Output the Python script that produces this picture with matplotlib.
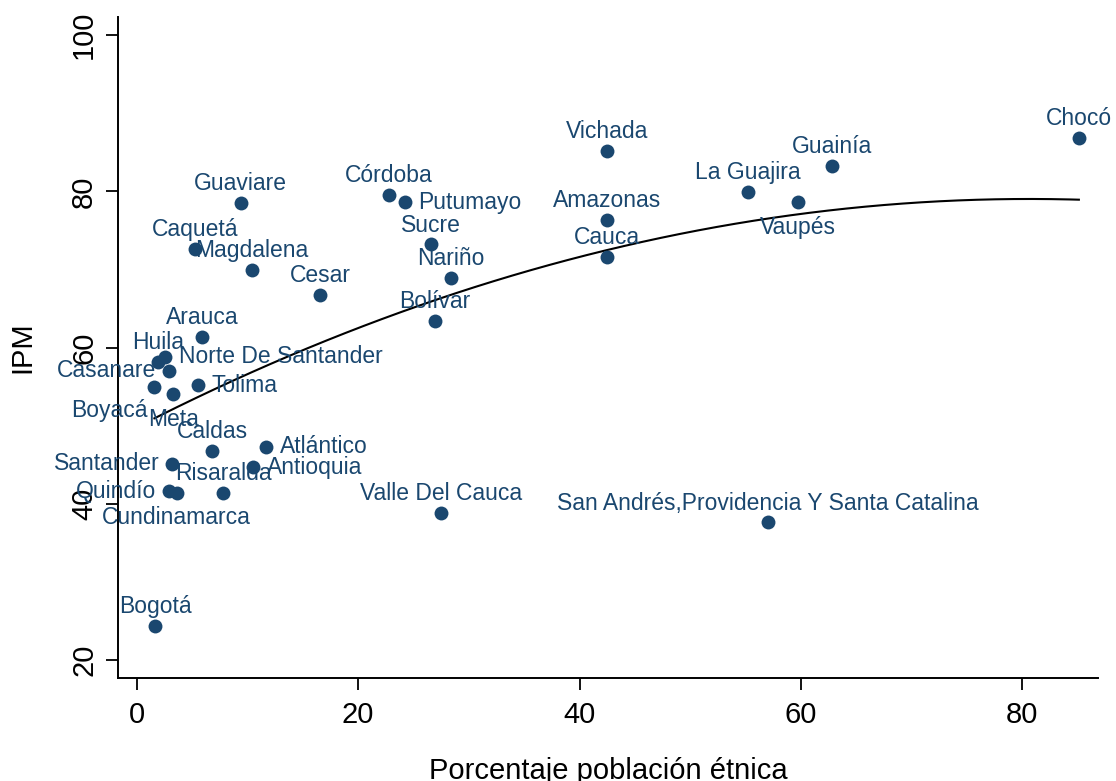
import matplotlib
matplotlib.use('Agg')
import numpy as np
import matplotlib.pyplot as plt

plt.rcParams['font.family'] = ['Liberation Sans', 'DejaVu Sans']

departamentos = ['Chocó', 'Guainía', 'Vichada', 'La Guajira', 'Vaupés', 'Amazonas', 'Cauca',
                 'Córdoba', 'Putumayo', 'Sucre', 'Nariño', 'Bolívar', 'Guaviare', 'Caquetá',
                 'Magdalena', 'Cesar', 'Arauca', 'Huila', 'Norte De Santander', 'Casanare',
                 'Boyacá', 'Meta', 'Tolima', 'Caldas', 'Atlántico', 'Antioquia', 'Santander',
                 'Risaralda', 'Quindío', 'Cundinamarca', 'Bogotá', 'Valle Del Cauca',
                 'San Andrés,Providencia Y Santa Catalina']
pob_etnica = [85.1, 62.8, 42.5, 55.2, 59.7, 42.5, 42.5,
              22.8, 24.2, 26.6, 28.4, 26.9, 9.4, 5.3,
              10.4, 16.6, 5.9, 1.9, 2.6, 2.9,
              1.6, 3.3, 5.5, 6.8, 11.7, 10.5, 3.2,
              7.8, 2.9, 3.6, 1.65, 27.5, 57.0]
ipm = [86.8, 83.2, 85.2, 79.9, 78.6, 76.3, 71.6,
       79.5, 78.6, 73.2, 68.9, 63.4, 78.5, 72.6,
       69.9, 66.7, 61.3, 58.2, 58.8, 57.0,
       55.0, 54.0, 55.2, 46.7, 47.3, 44.7, 45.1,
       41.4, 41.6, 41.4, 24.3, 38.8, 37.6]
# Stata clock positions for labels
posiciones = [12, 12, 12, 12, 6, 12, 12,
              12, 3, 12, 12, 12, 12, 12,
              12, 12, 12, 12, 3, 9,
              7, 6, 3, 12, 3, 3, 9,
              12, 9, 6, 12, 12, 12]

navy = '#1a476f'
offsets = {12: ((0, 14), 'center', 'center'),
           6: ((0, -18), 'center', 'center'),
           3: ((10, 0), 'left', 'center'),
           9: ((-9, 0), 'right', 'center'),
           7: ((-5, -17), 'right', 'center')}

fig = plt.figure(figsize=(11.16, 7.81), dpi=100)
ax = fig.add_axes([0.106, 0.132, 0.878, 0.846])

x = np.array(pob_etnica)
y = np.array(ipm)
coef = np.polyfit(x, y, 2)
xs = np.linspace(x.min(), x.max(), 200)
ax.plot(xs, np.polyval(coef, xs), color='black', lw=1.5, zorder=2)

ax.scatter(x, y, s=100, color=navy, zorder=3, linewidths=0)
for name, xi, yi, p in zip(departamentos, x, y, posiciones):
    off, ha, va = offsets[p]
    ax.annotate(name, (xi, yi), xytext=off, textcoords='offset points',
                ha=ha, va=va, fontsize=16.5, color=navy, zorder=4)

ax.set_xlim(-1.66, 86.84)
ax.set_ylim(17.7, 102.3)
ax.set_xticks([0, 20, 40, 60, 80])
ax.set_yticks([20, 40, 60, 80, 100])
ax.tick_params(axis='x', length=8.5, width=1.3, labelsize=21, pad=8)
ax.tick_params(axis='y', length=8.5, width=1.3, labelsize=21, pad=6)
plt.setp(ax.get_yticklabels(), rotation=90, va='center')
for side in ['top', 'right']:
    ax.spines[side].set_visible(False)
for side in ['left', 'bottom']:
    ax.spines[side].set_linewidth(1.4)
ax.set_xlabel('Porcentaje población étnica', fontsize=21, labelpad=20)
ax.set_ylabel('IPM', fontsize=21, labelpad=24)

fig.savefig('out.png', dpi=100)
plt.close(fig)
